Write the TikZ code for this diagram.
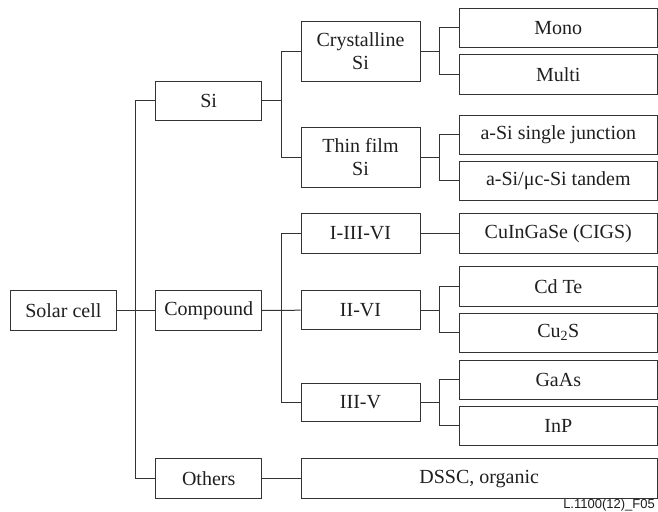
\documentclass[tikz,border=0pt]{standalone}
\usepackage{fontspec}
\setmainfont{Liberation Serif}
\newfontfamily\labelfont{Liberation Sans}
\begin{document}
\begin{tikzpicture}[x=1pt,y=-1pt,
  box/.style={draw=black!80,line width=1pt,inner sep=0pt,align=center,
    text=black!88,font=\fontsize{20}{23}\selectfont,minimum height=39.5pt},
  wa/.style={box,minimum width=106pt},
  wb/.style={box,minimum width=119pt},
  wc/.style={box,minimum width=198pt},
  conn/.style={draw=black!80,line width=1pt}]
\useasboundingbox (0,0) rectangle (658,511);
% level 0
\node[box,minimum width=106.7pt] (solar) at (63.35,310.5) {Solar cell};
% level 1
\node[wa] (si)   at (208.7,100.85) {Si};
\node[wa] (comp) at (208.7,310.5) {Compound};
\node[wa] (oth)  at (208.7,478.65) {Others};
% level 2
\node[wb,minimum height=59.4pt] (cry)  at (360.5,51.35) {Crystalline\\Si};
\node[wb,minimum height=59.6pt] (thin) at (360.5,157.5) {Thin film\\Si};
\node[wb,minimum height=40pt] (iiivi) at (360.5,233.3) {I-III-VI};
\node[wb] (iivi) at (360.5,310.2) {II-VI};
\node[wb,minimum height=38.4pt] (iiiv) at (360.5,402.5) {III-V};
% level 3
\node[wc] (mono)   at (558.3,28)    {Mono};
\node[wc] (multi)  at (558.3,74.65) {Multi};
\node[wc,minimum height=39pt] (asi)    at (558.3,134.5) {a-Si single junction};
\node[wc,minimum height=39pt] (tandem) at (558.3,180.5) {a-Si/μc-Si tandem};
\node[wc,minimum height=40pt] (cigs)   at (558.3,233.3) {CuInGaSe (CIGS)};
\node[wc,minimum height=39.3pt] (cdte) at (558.3,286.35) {Cd Te};
\node[wc,minimum height=39pt] (cus)    at (558.3,332.8) {Cu\textsubscript{2}S};
\node[wc,minimum height=39pt] (gaas)   at (558.3,379.5) {GaAs};
\node[wc,minimum height=39pt] (inp)    at (558.3,425.5) {InP};
\node[box,minimum width=356.3pt] (dssc) at (479.15,478.65) {DSSC, organic};
% branch coordinates
\coordinate (b1) at (135.7,0);
\coordinate (b2) at (281,0);
\coordinate (b3) at (439.3,0);
% connectors level 0-1
\draw[conn] (solar.east) -- (comp.west);
\draw[conn] (si.west) -- (si.west -| b1) |- (oth.west);
% level 1-2
\draw[conn] (si.east) -- (si.east -| b2);
\draw[conn] (cry.west) -- (cry.west -| b2) |- (thin.west);
\draw[conn] (comp.east) -- (iivi.west);
\draw[conn] (iiivi.west) -- (iiivi.west -| b2) |- (iiiv.west);
\draw[conn] (oth.east) -- (dssc.west);
% level 2-3
\draw[conn] (cry.east) -- (cry.east -| b3);
\draw[conn] (mono.west) -- (mono.west -| b3) |- (multi.west);
\draw[conn] (thin.east) -- (thin.east -| b3);
\draw[conn] (asi.west) -- (asi.west -| b3) |- (tandem.west);
\draw[conn] (iiivi.east) -- (cigs.west);
\draw[conn] (iivi.east) -- (iivi.east -| b3);
\draw[conn] (cdte.west) -- (cdte.west -| b3) |- (cus.west);
\draw[conn] (iiiv.east) -- (iiiv.east -| b3);
\draw[conn] (gaas.west) -- (gaas.west -| b3) |- (inp.west);
% figure label
\node[anchor=base east,inner sep=0pt,text=black!88,font=\labelfont\fontsize{13}{14}\selectfont] (lbl) at (655,508.5) {L.1100(12)\_F05};
\end{tikzpicture}
\end{document}
